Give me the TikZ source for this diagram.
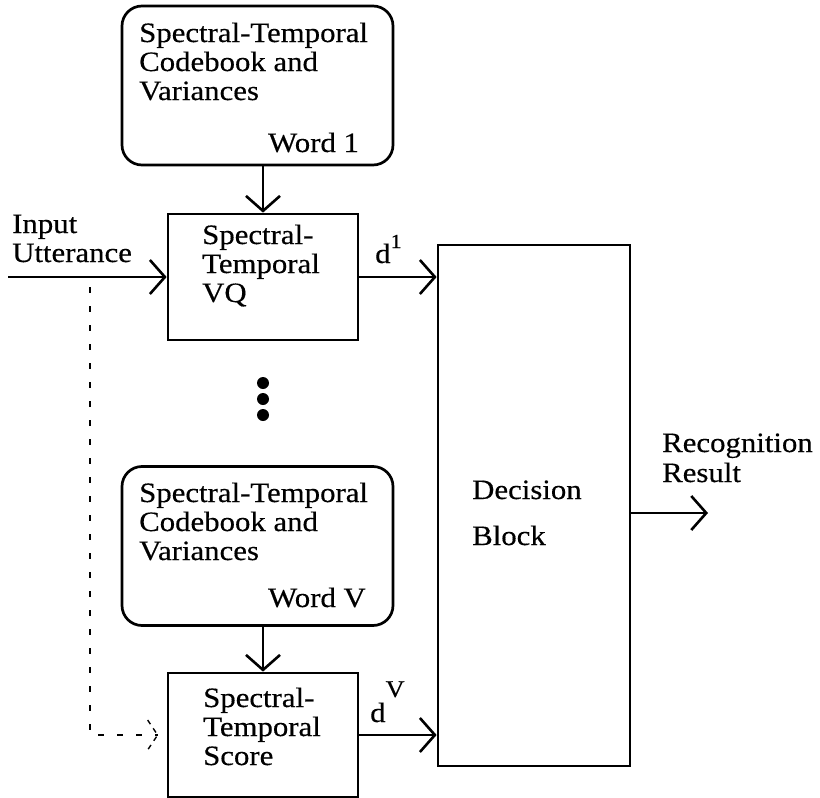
\documentclass[tikz,border=0pt]{standalone}
\usepackage{fontspec}
\setmainfont{Liberation Serif}[FakeStretch=1.1, FakeBold=0.4]
\usetikzlibrary{arrows.meta}

\begin{document}
\begin{tikzpicture}[x=1pt, y=-1pt,
  box/.style={draw, line width=2.7pt, inner sep=0pt},
  store/.style={box, rounded corners=20pt, minimum width=271pt, minimum height=159pt},
  proc/.style={box, minimum width=190pt},
  % multi-line labels are placed by the baseline of their last line
  txt/.style={anchor=base west, inner sep=0pt, align=left,
              font=\fontsize{28}{29}\selectfont},
  flow/.style={line width=2.6pt, -{Straight Barb[length=15pt, width=34pt]}},
  tapline/.style={line width=1.4pt, dash pattern=on 6pt off 13pt}]

\useasboundingbox (0,0) rectangle (820,798);

% codebook stores
\node[store] (cb1) at (257.5,85.5) {};
\node[store] (cbV) at (257.5,546) {};
\node[txt] (cb1t) at (139,100) {Spectral-Temporal\\Codebook and\\Variances};
\node[txt] (cb1w) at (268,152) {Word 1};
\node[txt] (cbVt) at (139,560) {Spectral-Temporal\\Codebook and\\Variances};
\node[txt] (cbVw) at (268,607) {Word V};

% processing blocks
\node[proc, minimum height=126pt] (vq) at (263,277) {};
\node[proc, minimum height=124pt] (sc) at (263,735) {};
\node[txt] (vqt) at (202,302) {Spectral-\\Temporal\\VQ};
\node[txt] (sct) at (203,765) {Spectral-\\Temporal\\Score};

% decision block
\node[box, minimum width=192pt, minimum height=521pt] (dec) at (534,505.5) {};
\node[txt] (dec1) at (472,499) {Decision};
\node[txt] (dec2) at (472,545) {Block};

% input and output labels
\node[txt] (inl) at (12,262) {Input\\Utterance};
\node[txt, font=\fontsize{28}{30}\selectfont] (outl) at (662,482) {Recognition\\Result};
\node[txt] (d1) at (375,263) {d\raisebox{15pt}{\fontsize{20}{20}\selectfont 1}};
\node[txt] (dV) at (370,722) {d\raisebox{25pt}{\fontsize{24}{24}\selectfont V}};

% ellipsis between the word models
\fill (263,383) circle (6pt) (263,399) circle (6pt) (263,415) circle (6pt);

% connectors
\coordinate (src) at (8,277);
\coordinate (tap) at (90,277);
\coordinate (res) at (708,513);
\coordinate (dtip) at ([xshift=-9pt]sc.west);

\draw[flow] (vq.north |- cb1.south) -- (vq.north);
\draw[flow] (sc.north |- cbV.south) -- (sc.north);
\draw[flow] (src) -- (vq.west);
\draw[flow] (vq.east) -- (vq.east -| dec.west);
\draw[flow] (sc.east) -- (sc.east -| dec.west);
\draw[flow] (dec.east |- res) -- (res);

% dashed feed of the utterance to the scoring block
\draw[tapline] ([yshift=-10pt]tap) -- (tap |- dtip) -- (dtip);
\draw[tapline, dash pattern=on 5pt off 5pt] ([shift={(-10,-15)}]dtip) -- (dtip) -- ([shift={(-10,15)}]dtip);
\end{tikzpicture}
\end{document}
